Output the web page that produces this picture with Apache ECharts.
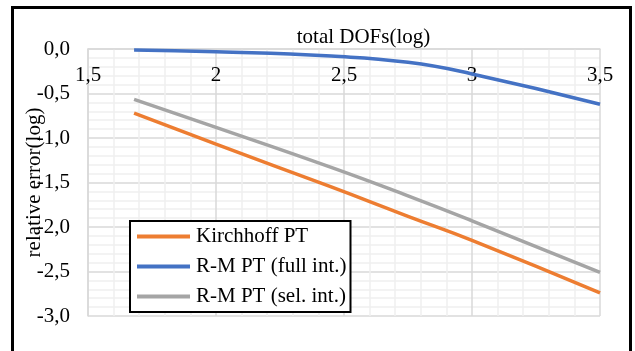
<!DOCTYPE html>
<html>
<head>
<meta charset="utf-8">
<script src="https://cdn.jsdelivr.net/npm/echarts@6/dist/echarts.min.js"></script>
<style>
  html, body { margin: 0; padding: 0; background: #fff; }
  #chart { width: 635px; height: 351px; }
</style>
</head>
<body>
<div id="chart"></div>
<script>
// log10 of total degrees of freedom
const dofs = [1.68, 2.0, 2.45, 2.75, 3.0, 3.5];
// log10 of relative error for each plate formulation
const kirchhoff = [-0.72, -1.07, -1.55, -1.88, -2.15, -2.74];
const rmFullInt = [-0.01, -0.03, -0.08, -0.15, -0.28, -0.62];
const rmSelInt = [-0.565, -0.88, -1.33, -1.65, -1.93, -2.51];

const seriesNames = ['Kirchhoff PT', 'R-M PT (full int.)', 'R-M PT (sel. int.)'];
const seriesColors = ['#ED7D31', '#4472C4', '#A5A5A5'];
const xTicks = { min: 1.5, max: 3.5, step: 0.5 };
const yTicks = { min: -3, max: 0, step: 0.5 };

const serif = '"Liberation Serif", "Times New Roman", serif';
const pair = (ys) => dofs.map((x, i) => [x, ys[i]]);
const comma = (v) => String(v).replace('.', ',');

const chart = echarts.init(document.getElementById('chart'), null, { renderer: 'canvas' });

const lineSeries = [kirchhoff, rmFullInt, rmSelInt].map((ys, i) => ({
  name: seriesNames[i],
  type: 'line',
  data: pair(ys),
  smooth: 0.5,
  showSymbol: false,
  symbol: 'none',
  lineStyle: { width: 3.5, color: seriesColors[i] },
  itemStyle: { color: seriesColors[i] },
  z: 3
}));

chart.setOption({
  animation: false,
  backgroundColor: '#fff',
  grid: { left: 88, right: 35, top: 49, bottom: 35, containLabel: false },
  xAxis: {
    type: 'value',
    position: 'top',
    min: xTicks.min, max: xTicks.max, interval: xTicks.step,
    name: 'total DOFs(log)',
    nameLocation: 'middle',
    nameGap: 1,
    nameMoveOverlap: false,
    nameTextStyle: { fontFamily: serif, fontSize: 21, color: '#000', verticalAlign: 'bottom', padding: [0, 0, 0, 39] },
    axisLine: { show: true, onZero: false, lineStyle: { color: '#d9d9d9', width: 1.5 } },
    axisTick: { show: false },
    axisLabel: {
      inside: true, margin: 16,
      fontFamily: serif, fontSize: 21, color: '#000',
      formatter: (v) => comma(v)
    },
    splitLine: { show: true, lineStyle: { color: '#d9d9d9', width: 1.5 } },
    minorTick: { show: false, splitNumber: 5 },
    minorSplitLine: { show: true, lineStyle: { color: '#efefef', width: 1.5 } }
  },
  yAxis: {
    type: 'value',
    min: yTicks.min, max: yTicks.max, interval: yTicks.step,
    name: 'relative error(log)',
    nameLocation: 'middle',
    nameRotate: 90,
    nameGap: 43,
    nameMoveOverlap: false,
    nameTextStyle: { fontFamily: serif, fontSize: 21, color: '#000' },
    axisLine: { show: true, lineStyle: { color: '#d9d9d9', width: 1.5 } },
    axisTick: { show: false },
    axisLabel: {
      margin: 18,
      fontFamily: serif, fontSize: 21, color: '#000',
      formatter: (v) => comma(v.toFixed(1))
    },
    splitLine: { show: true, lineStyle: { color: '#d9d9d9', width: 1.5 } },
    minorTick: { show: false, splitNumber: 5 },
    minorSplitLine: { show: true, lineStyle: { color: '#efefef', width: 1.5 } }
  },
  legend: {
    data: seriesNames,
    orient: 'vertical',
    left: 130,
    top: 221,
    padding: [5, 4, 5, 7],
    itemGap: 9,
    itemWidth: 53,
    itemHeight: 4,
    icon: 'rect',
    backgroundColor: '#fff',
    borderColor: '#000',
    borderWidth: 2,
    textStyle: { fontFamily: serif, fontSize: 21, color: '#000', lineHeight: 21, padding: [0, 0, 0, 1] }
  },
  graphic: [{
    type: 'rect',
    silent: true,
    shape: { x: 12.5, y: 7.5, width: 618, height: 400 },
    style: { fill: 'none', stroke: '#000', lineWidth: 3 },
    z: 10
  }],
  series: lineSeries
});
</script>
</body>
</html>
